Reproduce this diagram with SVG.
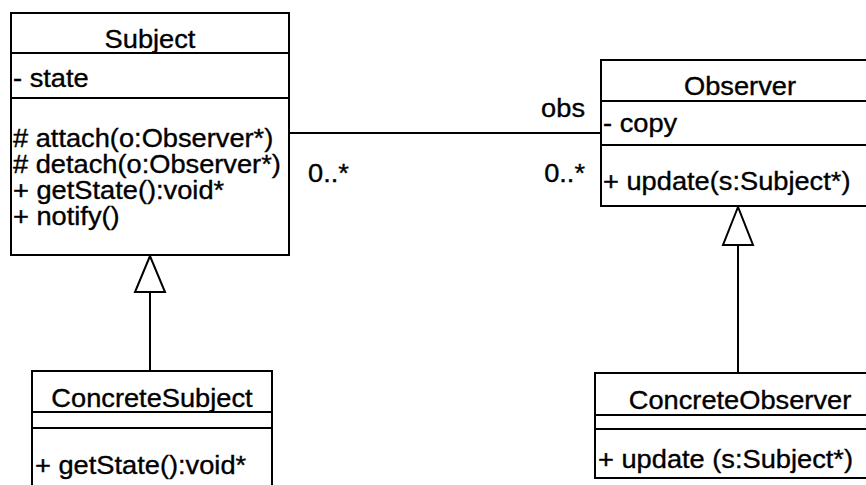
<svg xmlns="http://www.w3.org/2000/svg" width="866" height="485" viewBox="0 0 866 485">
  <style>
    .box { fill: #ffffff; stroke: #000000; stroke-width: 2; }
    .div { stroke: #000000; stroke-width: 2; fill: none; }
    .edge { stroke: #000000; stroke-width: 2; fill: none; }
    .head { fill: #ffffff; stroke: #000000; stroke-width: 2; }
    text { font-family: "Liberation Sans", Arial, sans-serif; font-size: 25px; fill: #000000; stroke: #000000; stroke-width: 0.35; }
    .c { text-anchor: middle; }
    .e { text-anchor: end; }
  </style>
  <rect width="866" height="485" fill="#ffffff"/>

  <!-- association and generalization lines -->
  <g id="connectors">
    <line class="edge" x1="289" y1="133" x2="601" y2="133"/>
    <text transform="translate(585,117) scale(1.09,1)" class="e">obs</text>
    <text transform="translate(308,182) scale(1.09,1)">0..*</text>
    <text transform="translate(585,182) scale(1.09,1)" class="e">0..*</text>

    <line class="edge" x1="150" y1="292" x2="150" y2="371"/>
    <polygon class="head" points="150,256 135,292 165,292"/>

    <line class="edge" x1="738" y1="245" x2="738" y2="373"/>
    <polygon class="head" points="738,207 723,245 753,245"/>
  </g>

  <g id="subject">
    <rect class="box" x="11" y="13" width="278" height="242"/>
    <line class="div" x1="11" y1="53" x2="289" y2="53"/>
    <line class="div" x1="11" y1="98" x2="289" y2="98"/>
    <text transform="translate(150,48) scale(1.09,1)" class="c">Subject</text>
    <text transform="translate(13,87) scale(1.09,1)">- state</text>
    <text transform="translate(13,147) scale(1.09,1)"># attach(o:Observer*)</text>
    <text transform="translate(13,173) scale(1.09,1)"># detach(o:Observer*)</text>
    <text transform="translate(13,199) scale(1.09,1)">+ getState():void*</text>
    <text transform="translate(13,225) scale(1.09,1)">+ notify()</text>
  </g>

  <g id="observer">
    <rect class="box" x="601" y="60" width="275" height="146"/>
    <line class="div" x1="601" y1="101" x2="876" y2="101"/>
    <line class="div" x1="601" y1="145" x2="876" y2="145"/>
    <text transform="translate(740,95) scale(1.09,1)" class="c">Observer</text>
    <text transform="translate(603,132) scale(1.09,1)">- copy</text>
    <text transform="translate(603,190) scale(1.09,1)">+ update(s:Subject*)</text>
  </g>

  <g id="concrete-subject">
    <rect class="box" x="32" y="371" width="240" height="130"/>
    <line class="div" x1="32" y1="412" x2="272" y2="412"/>
    <line class="div" x1="32" y1="428" x2="272" y2="428"/>
    <text transform="translate(152,407) scale(1.09,1)" class="c">ConcreteSubject</text>
    <text transform="translate(35,474) scale(1.09,1)">+ getState():void*</text>
  </g>

  <g id="concrete-observer">
    <rect class="box" x="595" y="373" width="281" height="105"/>
    <line class="div" x1="595" y1="415" x2="876" y2="415"/>
    <line class="div" x1="595" y1="429" x2="876" y2="429"/>
    <text transform="translate(740,409) scale(1.09,1)" class="c">ConcreteObserver</text>
    <text transform="translate(598,468) scale(1.09,1)">+ update (s:Subject*)</text>
  </g>
</svg>
